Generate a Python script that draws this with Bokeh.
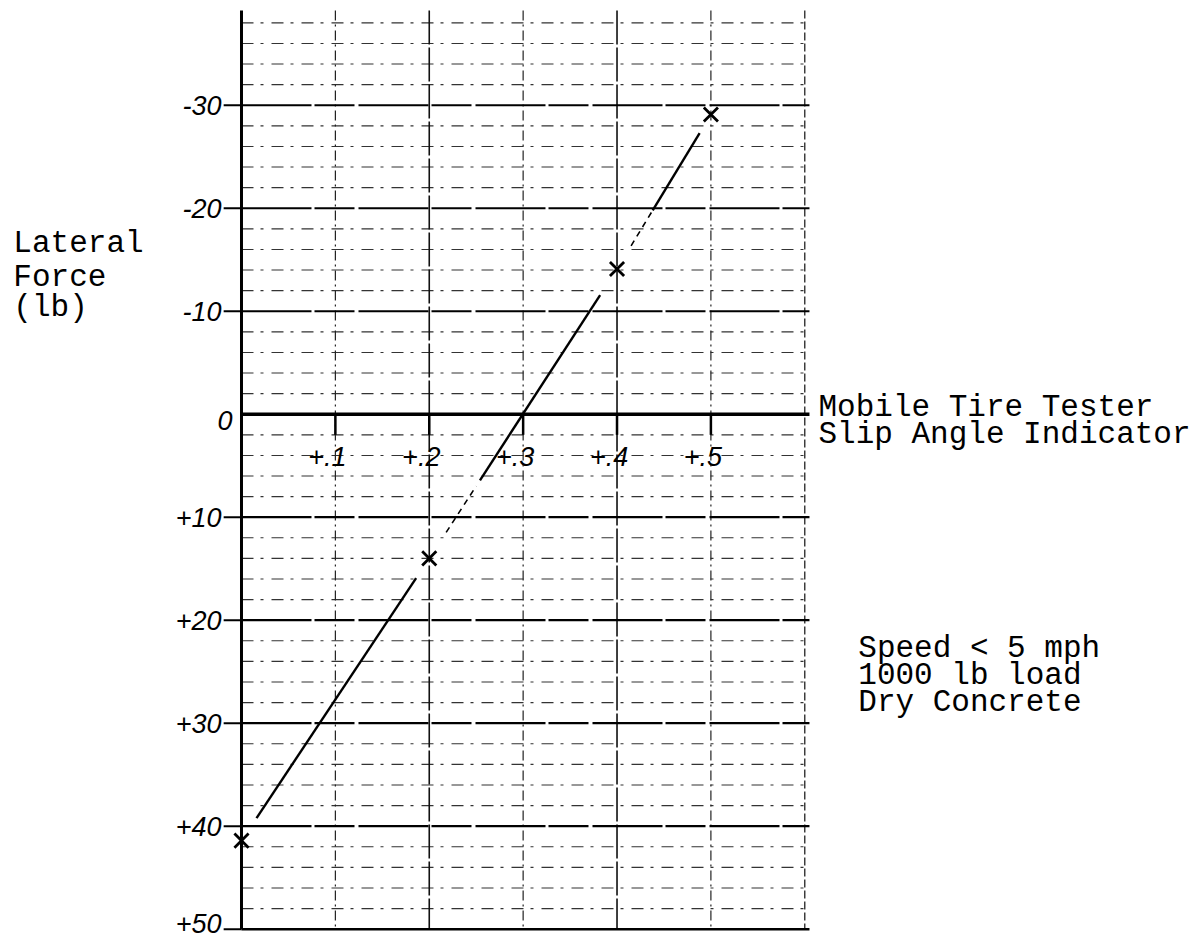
from bokeh.plotting import figure
from bokeh.models import Range1d, Label
from bokeh.core.properties import value
from bokeh.embed import file_html
from bokeh.resources import INLINE

# ---- data ----
slip_angle = [0.0, 0.2, 0.4, 0.5]
lateral_force = [41.4, 14.0, -14.1, -29.1]

y_major = [-30, -20, -10, 0, 10, 20, 30, 40, 50]
y_labels = ["-30", "-20", "-10", "0", "+10", "+20", "+30", "+40", "+50"]
y_minor = [-38, -36, -34, -32, -28, -26, -24, -22, -18, -16, -14, -12,
           -8, -6, -4, -2, 2, 4, 6, 8, 12, 14, 16, 18, 22, 24, 26, 28,
           32, 34, 36, 38, 42, 44, 46, 48]
x_ticks = [0.1, 0.2, 0.3, 0.4, 0.5]
x_labels = ["+.1", "+.2", "+.3", "+.4", "+.5"]
x_dark = [0.2, 0.4]
x_light = [0.1, 0.3, 0.5]
x_border = [0.6]

# ---- layout constants (style, not data) ----
X_END = 0.605        # right end of the graph paper
Y_TOP = -39.2        # top end of the graph paper
Y_BOT = 50.0
TICK_W = 0.019       # ~18 px
TICK_LEN = 2.0       # ~21 px
y_label_dx = [-20, -20, -20, -9, -20, -20, -20, -20, -20]
y_label_dy = [0, 0, 0, 6, 0, 0, 0, 0, -6]

p = figure(width=1200, height=939, output_backend="svg", toolbar_location=None,
           x_range=Range1d(-0.25671, 1.02152), y_range=Range1d(51.0, -40.17),
           x_axis_location=None, y_axis_location=None,
           min_border_left=0, min_border_right=0,
           min_border_top=0, min_border_bottom=0)
p.outline_line_color = None
p.background_fill_color = "white"
p.border_fill_color = "white"
p.grid.visible = False


def hlines(ys, **kw):
    p.segment(x0=[0] * len(ys), y0=ys, x1=[X_END] * len(ys), y1=ys, **kw)


def vlines(xs, **kw):
    p.segment(x0=xs, y0=[Y_TOP] * len(xs), x1=xs, y1=[Y_BOT] * len(xs), **kw)


# graph-paper grid
hlines(y_minor, line_color="#333333", line_width=1.1, line_dash="12 7 3 8")
vlines(x_light, line_color="#222222", line_width=1.2, line_dash="10 4 2 4")
vlines(x_dark, line_color="#111111", line_width=1.6, line_dash="34 3")
vlines(x_border, line_color="#222222", line_width=1.3, line_dash="8 3")
hlines([v for v in y_major if v not in (0, 50)], line_color="black",
       line_width=2.2, line_dash="70 3 40 4")
hlines([50], line_color="black", line_width=2.6)
hlines([0], line_color="black", line_width=3.6)

# y axis (hand-drawn style)
p.segment(x0=[0], y0=[Y_TOP], x1=[0], y1=[Y_BOT], line_color="black", line_width=3)
yt = [v for v in y_major if v != 0]
p.segment(x0=[-TICK_W] * len(yt), y0=yt, x1=[0] * len(yt), y1=yt,
          line_color="black", line_width=2)
p.text(x=[0] * len(y_major), y=y_major, text=y_labels,
       x_offset=y_label_dx, y_offset=y_label_dy,
       text_font=value("Liberation Sans"), text_font_style="italic",
       text_font_size="27px", text_align="right", text_baseline="middle",
       text_color="black")

# x ticks below zero line + handwritten labels
p.segment(x0=x_ticks, y0=[0] * len(x_ticks), x1=x_ticks,
          y1=[TICK_LEN] * len(x_ticks), line_color="black", line_width=2.5)
p.text(x=x_ticks, y=[0] * len(x_ticks), text=x_labels, x_offset=-8, y_offset=42,
       text_font=value("Liberation Sans"), text_font_style="italic",
       text_font_size="27px", text_align="center", text_baseline="middle",
       text_color="black")

# hand-drawn line, broken near the markers
solid_parts = [(0.08, 0.93), (0.27, 0.91), (0.38, 0.88)]
dashed_parts = [None, (0.09, 0.25), (0.15, 0.37)]
for i in range(len(slip_angle) - 1):
    x0, x1 = slip_angle[i], slip_angle[i + 1]
    y0, y1 = lateral_force[i], lateral_force[i + 1]
    a, b = solid_parts[i]
    p.line([x0 + a * (x1 - x0), x0 + b * (x1 - x0)],
           [y0 + a * (y1 - y0), y0 + b * (y1 - y0)],
           line_color="black", line_width=2.4)
    if dashed_parts[i] is not None:
        a, b = dashed_parts[i]
        p.line([x0 + a * (x1 - x0), x0 + b * (x1 - x0)],
               [y0 + a * (y1 - y0), y0 + b * (y1 - y0)],
               line_color="black", line_width=1.6, line_dash="6 5")

p.scatter(slip_angle, lateral_force, marker="x", size=20, line_width=2.8,
          line_color="black")


# typed annotations
def typed(x, y, txt):
    p.add_layout(Label(x=x, y=y, text=txt, text_font="Liberation Mono",
                       text_font_size="31px", text_color="black",
                       text_baseline="alphabetic", text_align="left"))


typed(-0.243, -16.6, "Lateral")
typed(-0.243, -13.3, "Force")
typed(-0.243, -10.4, "(lb)")
typed(0.6146, -0.68, "Mobile Tire Tester")
typed(0.6146, 1.94, "Slip Angle Indicator")
typed(0.657, 22.7, "Speed < 5 mph")
typed(0.657, 25.4, "1000 lb load")
typed(0.657, 28.0, "Dry Concrete")

open("out.html", "w").write(file_html(p, INLINE))
